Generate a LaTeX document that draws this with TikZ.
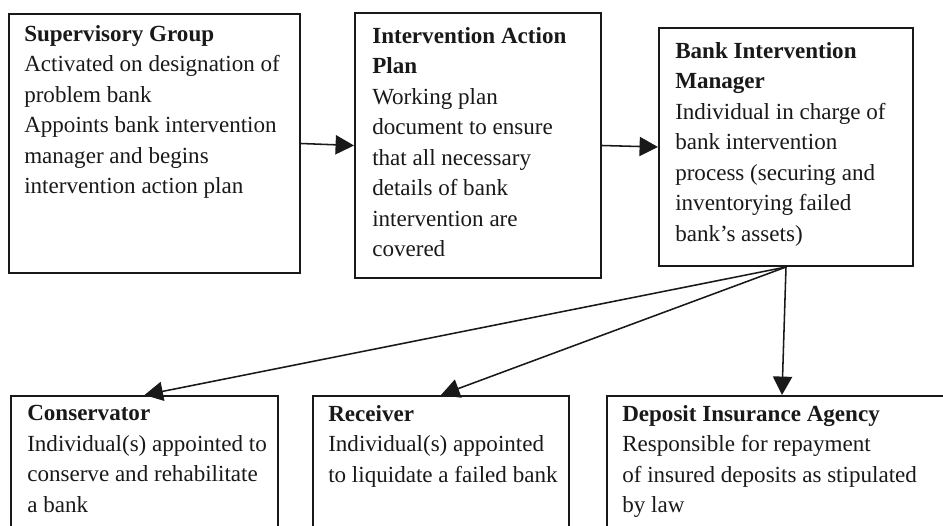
\documentclass[tikz,border=0pt]{standalone}
\usepackage{fontspec}
\setmainfont{Liberation Serif}
\usetikzlibrary{arrows.meta}

\tikzset{
  caja/.style={draw=black!90, line width=1.4pt, inner sep=0pt},
  texto/.style={anchor=north west, inner sep=0pt, align=left,
    font=\fontsize{16.4pt}{21.7pt}\selectfont, text=black!90},
  flecha/.style={draw=black!90, line width=1.1pt,
    -{Triangle[length=0.46cm, width=0.48cm]}}
}

\begin{document}
\begin{tikzpicture}[x=0.025cm, y=-0.025cm]

% Marco
\clip (0,0) rectangle (943,526);

% Cajas de arriba
\node[caja, minimum width=7.275cm, minimum height=6.475cm] (sup) at (154.5,143.5) {};
\node[caja, minimum width=6.15cm, minimum height=6.625cm] (plan) at (478,145.5) {};
\node[caja, minimum width=6.35cm, minimum height=5.95cm] (mgr) at (786,147) {};

% Cajas de abajo (cortadas por el borde)
\node[caja, minimum width=6.675cm, minimum height=4.1cm] (cons) at (144.5,478) {};
\node[caja, minimum width=6.4cm, minimum height=4.1cm] (rec) at (441,478) {};
\node[caja, minimum width=8.75cm, minimum height=4.1cm] (dep) at (782,478) {};

% Textos
\node[texto] (sup-t) at (24,25) {\textbf{Supervisory Group}\\
  Activated on designation of\\ problem bank\\
  Appoints bank intervention\\ manager and begins\\
  intervention action plan};
\node[texto] (plan-t) at (372,27) {\textbf{Intervention Action}\\ \textbf{Plan}\\
  Working plan\\ document to ensure\\ that all necessary\\
  details of bank\\ intervention are\\ covered};
\node[texto] (mgr-t) at (675,42) {\textbf{Bank Intervention}\\ \textbf{Manager}\\
  Individual in charge of\\ bank intervention\\
  process (securing and\\ inventorying failed\\ bank’s assets)};
\node[texto] (cons-t) at (27,405) {\textbf{Conservator}\\
  Individual(s) appointed to\\ conserve and rehabilitate\\ a bank};
\node[texto] (rec-t) at (328,405) {\textbf{Receiver}\\
  Individual(s) appointed\\ to liquidate a failed bank};
\node[texto] (dep-t) at (622,405) {\textbf{Deposit Insurance Agency}\\
  Responsible for repayment\\ of insured deposits as stipulated\\ by law};

% Flechas
\draw[flecha] (sup.east) -- (plan.west);
\draw[flecha] (plan.east) -- (mgr.west);
\draw[flecha] (mgr.south) -- (cons.north);
\draw[flecha] (mgr.south) -- (rec.north);
\draw[flecha] (mgr.south) -- (dep.north);

\end{tikzpicture}
\end{document}
